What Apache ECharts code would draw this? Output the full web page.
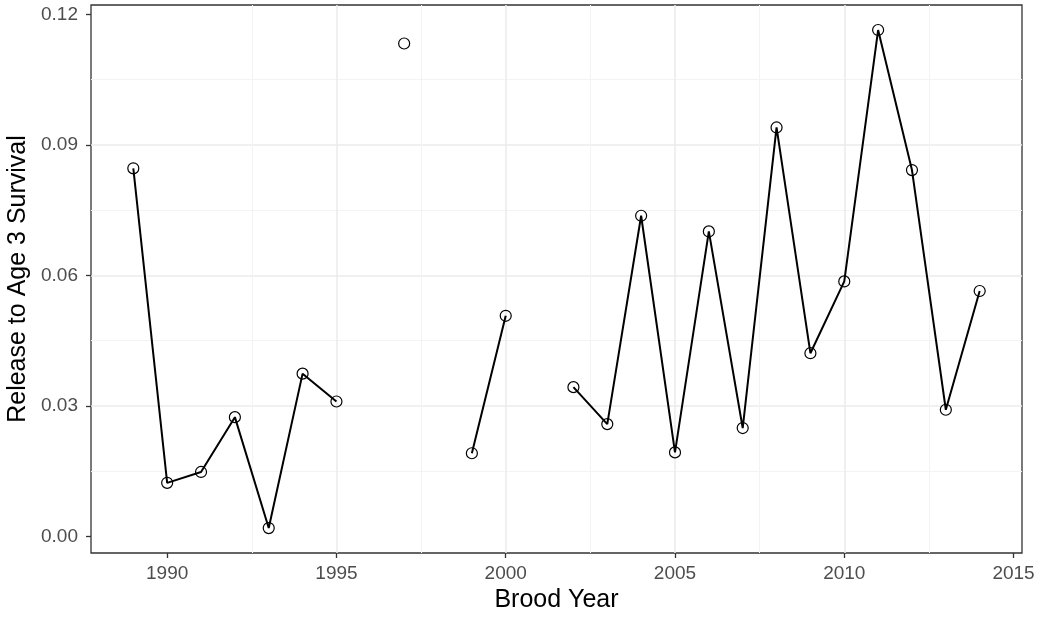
<!DOCTYPE html>
<html>
<head>
<meta charset="utf-8">
<script src="https://cdn.jsdelivr.net/npm/echarts@6/dist/echarts.min.js"></script>
<style>
  html, body { margin: 0; padding: 0; background: #fff; }
  #chart { width: 1041px; height: 617px; }
</style>
</head>
<body>
<div id="chart"></div>
<script>
// brood years and survival (null = no estimate)
const broodYears = [1989, 1990, 1991, 1992, 1993, 1994, 1995, 1996, 1997, 1998, 1999, 2000, 2001,
  2002, 2003, 2004, 2005, 2006, 2007, 2008, 2009, 2010, 2011, 2012, 2013, 2014];
const survival = [0.0846, 0.0123, 0.0148, 0.0274, 0.0019, 0.0374, 0.0310, null, 0.1133, null, 0.0191, 0.0507, null,
  0.0343, 0.0258, 0.0737, 0.0193, 0.0701, 0.0249, 0.0940, 0.0421, 0.0586, 0.1164, 0.0842, 0.0291, 0.0564];
const xTicks = [1990, 1995, 2000, 2005, 2010, 2015];
const yTicks = [0, 0.03, 0.06, 0.09, 0.12];

const font = 'Liberation Sans, Arial, sans-serif';
const seriesData = broodYears.map((yr, i) => [yr, survival[i]]);

const chart = echarts.init(document.getElementById('chart'), null, { renderer: 'canvas' });

chart.setOption({
  animation: false,
  backgroundColor: '#fff',
  grid: {
    left: 91, right: 19, top: 5, bottom: 64,
    outerBoundsMode: 'none', containLabel: false,
    show: true, borderColor: '#333333', borderWidth: 1.3, backgroundColor: 'transparent'
  },
  xAxis: {
    type: 'value',
    min: 1987.75, max: 2015.25, splitNumber: 5,
    name: 'Brood Year', nameLocation: 'middle', nameGap: 35,
    nameTextStyle: { color: '#000', fontSize: 25, fontFamily: font },
    axisLine: { show: false, onZero: false },
    axisTick: { show: true, customValues: xTicks, length: 5, lineStyle: { color: '#333333', width: 1.3 } },
    axisLabel: {
      customValues: xTicks, color: '#4d4d4d', fontSize: 19, fontFamily: font, margin: 11,
      formatter: v => String(v)
    },
    splitLine: { show: true, showMinLine: false, showMaxLine: false, lineStyle: { color: '#ebebeb', width: 1.5 } },
    minorTick: { show: false, splitNumber: 2 },
    minorSplitLine: { show: true, lineStyle: { color: '#f3f3f3', width: 1 } }
  },
  yAxis: {
    type: 'value',
    min: -0.00383, max: 0.12215, splitNumber: 5,
    name: 'Release to Age 3 Survival', nameLocation: 'middle', nameGap: 58,
    nameTextStyle: { color: '#000', fontSize: 25, fontFamily: font },
    axisLine: { show: false, onZero: false },
    axisTick: { show: true, customValues: yTicks, length: 5, lineStyle: { color: '#333333', width: 1.3 } },
    axisLabel: {
      customValues: yTicks, color: '#4d4d4d', fontSize: 19, fontFamily: font, margin: 13,
      formatter: v => v.toFixed(2)
    },
    splitLine: { show: true, showMinLine: false, showMaxLine: false, lineStyle: { color: '#ebebeb', width: 1.5 } },
    minorTick: { show: false, splitNumber: 2 },
    minorSplitLine: { show: true, lineStyle: { color: '#f3f3f3', width: 1 } }
  },
  series: [{
    type: 'line',
    data: seriesData,
    connectNulls: false,
    symbol: 'circle',
    symbolSize: 11,
    showAllSymbol: true,
    lineStyle: { color: '#000', width: 2 },
    itemStyle: { color: 'rgba(0,0,0,0)', borderColor: '#000', borderWidth: 1.2 },
    emphasis: { disabled: true }
  }]
});
</script>
</body>
</html>
